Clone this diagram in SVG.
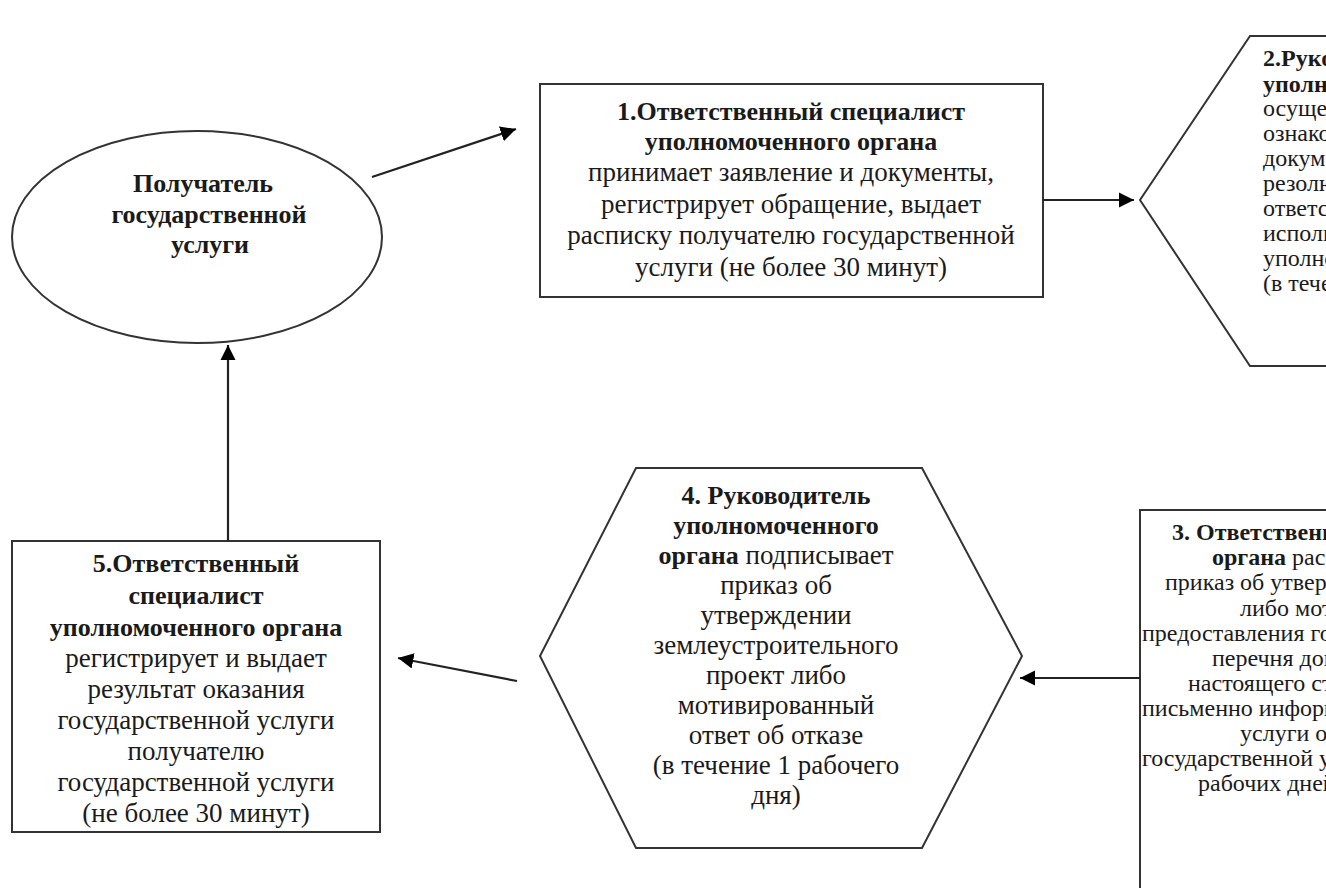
<svg xmlns="http://www.w3.org/2000/svg" width="1326" height="888" viewBox="0 0 1326 888">
<defs>
<style>
.shape{fill:#fff;stroke:#333;stroke-width:2}
.t{font-family:"Liberation Serif","Times New Roman",serif;font-size:27px;fill:#1a1a1a}
.s{font-size:24px}
.b{font-weight:bold;font-size:26px}
.s .b{font-size:24px}
.m{text-anchor:middle}
.conn line{stroke:#222;stroke-width:2.2;fill:none}
</style>
<marker id="ah" viewBox="0 0 10 10" refX="10" refY="5" markerWidth="7" markerHeight="7" markerUnits="strokeWidth" orient="auto">
<path d="M0,0 L10,5 L0,10 z" fill="#000"/>
</marker>
</defs>
<rect width="1326" height="888" fill="#fff"/>

<g id="node-recipient">
<ellipse class="shape" cx="197" cy="237" rx="185" ry="106"/>
<text class="t b m"><tspan x="203" y="192">Получатель</tspan><tspan x="209" y="223">государственной</tspan><tspan x="210" y="253">услуги</tspan></text>
</g>

<g id="node-step1">
<rect class="shape" x="540" y="84" width="503" height="213"/>
<text class="t m"><tspan class="b" x="791" y="120">1.Ответственный специалист</tspan><tspan class="b" x="791" y="150">уполномоченного органа</tspan><tspan x="791" y="181">принимает заявление и документы,</tspan><tspan x="791" y="213">регистрирует обращение, выдает</tspan><tspan x="791" y="244">расписку получателю государственной</tspan><tspan x="791" y="276">услуги (не более 30 минут)</tspan></text>
</g>

<g id="node-step2">
<polygon class="shape" points="1250,36 1500,36 1600,200 1500,366 1250,366 1140,200"/>
<text class="t s"><tspan class="b" x="1263" y="66">2.Руководитель</tspan><tspan class="b" x="1263" y="92">уполномоченного органа</tspan><tspan x="1263" y="116">осуществляет</tspan><tspan x="1263" y="141">ознакомление с</tspan><tspan x="1263" y="166">документами, налагает</tspan><tspan x="1263" y="191">резолюцию и определяет</tspan><tspan x="1263" y="216">ответственного</tspan><tspan x="1263" y="241">исполнителя</tspan><tspan x="1263" y="266">уполномоченного органа</tspan><tspan x="1263" y="291">(в течение 1 рабочего дня)</tspan></text>
</g>

<g id="node-step3">
<rect class="shape" x="1140" y="510" width="400" height="420"/>
<text class="t s"><tspan class="b" x="1172" y="540">3. Ответственный специалист уполномоченного</tspan><tspan class="b" x="1212" y="565">органа</tspan><tspan> рассматривает документы</tspan><tspan x="1165" y="590">приказ об утверждении проекта</tspan><tspan x="1240" y="616">либо мотивированный ответ</tspan><tspan x="1142" y="641">предоставления государственной услуги</tspan><tspan x="1212" y="666">перечня документов</tspan><tspan x="1188" y="691">настоящего стандарта</tspan><tspan x="1142" y="716">письменно информирует получателя</tspan><tspan x="1240" y="741">услуги об отказе</tspan><tspan x="1142" y="766">государственной услуги (в течение</tspan><tspan x="1198" y="791">рабочих дней)</tspan></text>
</g>

<g id="node-step4">
<polygon class="shape" points="636,468 922,468 1022,656 922,848 636,848 540,656"/>
<text class="t m"><tspan class="b" x="776" y="504">4. Руководитель</tspan><tspan class="b" x="776" y="534">уполномоченного</tspan><tspan x="776" y="564"><tspan class="b">органа</tspan> подписывает</tspan><tspan x="776" y="594">приказ об</tspan><tspan x="776" y="624">утверждении</tspan><tspan x="776" y="654">землеустроительного</tspan><tspan x="776" y="684">проект либо</tspan><tspan x="776" y="714">мотивированный</tspan><tspan x="776" y="744">ответ об отказе</tspan><tspan x="776" y="774">(в течение 1 рабочего</tspan><tspan x="776" y="804">дня)</tspan></text>
</g>

<g id="node-step5">
<rect class="shape" x="12" y="541" width="368" height="291"/>
<text class="t m"><tspan class="b" x="196" y="572">5.Ответственный</tspan><tspan class="b" x="196" y="604">специалист</tspan><tspan class="b" x="196" y="636">уполномоченного органа</tspan><tspan x="196" y="667">регистрирует и выдает</tspan><tspan x="196" y="698">результат оказания</tspan><tspan x="196" y="729">государственной услуги</tspan><tspan x="196" y="760">получателю</tspan><tspan x="196" y="791">государственной услуги</tspan><tspan x="196" y="822">(не более 30 минут)</tspan></text>
</g>

<g id="connectors" class="conn">
<line x1="372" y1="177" x2="516" y2="129" marker-end="url(#ah)"/>
<line x1="1043" y1="200" x2="1134" y2="200" marker-end="url(#ah)"/>
<line x1="1140" y1="678" x2="1020" y2="678" marker-end="url(#ah)"/>
<line x1="517" y1="681" x2="398" y2="658" marker-end="url(#ah)"/>
<line x1="228" y1="541" x2="228" y2="345" marker-end="url(#ah)"/>
</g>
</svg>
